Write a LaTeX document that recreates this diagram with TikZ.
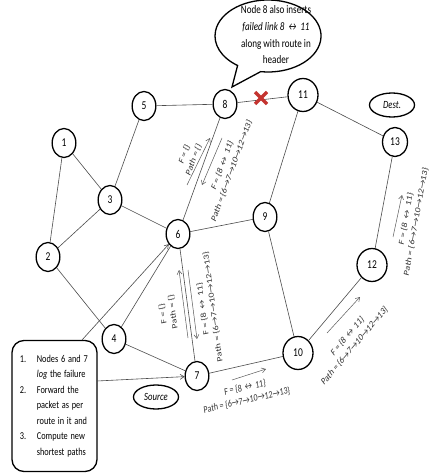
\documentclass[tikz,border=0pt]{standalone}
\usepackage{fontspec}
\setmainfont{Carlito}
\usetikzlibrary{arrows.meta,shapes.geometric,calc}
\definecolor{failred}{RGB}{196,52,48}
\begin{document}
\begin{tikzpicture}[x=1.26582pt,y=-1pt,xscale=0.79,
  every node/.append style={transform shape},
  nd/.style={ellipse,draw,line width=1.3pt,inner sep=0pt,minimum width=30pt,minimum height=29pt,font=\fontsize{12}{12}\selectfont},
  ndw/.style={nd,minimum width=38pt,minimum height=33pt},
  tag/.style={ellipse,draw,line width=1.3pt,inner sep=0pt,minimum width=57pt,minimum height=24pt,font=\fontsize{11}{11}\selectfont\itshape},
  ln/.style={draw=black!70,line width=0.6pt},
  la/.style={draw=black!65,line width=0.5pt,-{Straight Barb[length=4pt,width=5pt]}},
  lb/.style={inner sep=0pt,align=center,text=black!80,font=\fontsize{10}{13}\selectfont},
  xmark/.style={draw=failred,line width=3.5pt}
]
\useasboundingbox[fill=white] (0,0) rectangle (430,473);

% callout bubble
\coordinate (cc) at (268,36);
\coordinate (tip) at (232,87);
\draw[line width=1.3pt,fill=white] (cc) ++(262:67.1pt and 36pt)
  arc[start angle=262,end angle=595,x radius=67.1pt,y radius=36pt] -- (tip) -- cycle;
\node[align=center,inner sep=0pt,font=\fontsize{11.5}{16.7}\selectfont] (note) at (276,35)
  {Node 8 also inserts\\\textit{failed link 8 ↔ 11}\\along with route in\\header};

% network nodes
\node[nd] (n1) at (64,143) {1};
\node[nd] (n2) at (48,257) {2};
\node[nd] (n3) at (110,200) {3};
\node[nd] (n4) at (114,339) {4};
\node[nd] (n5) at (144,106) {5};
\node[nd] (n6) at (178,234) {6};
\node[nd] (n7) at (197,376) {7};
\node[nd] (n8) at (225,104) {8};
\node[nd] (n9) at (265,217) {9};
\node[ndw] (n10) at (298,353) {10};
\node[ndw] (n11) at (303,95) {11};
\node[ndw] (n12) at (372,265) {12};
\node[nd,minimum width=31.6pt] (n13) at (395,142) {13};

\node[tag] (dest) at (392,105) {Dest.};
\node[tag] (src) at (156,397) {Source};

% links
\foreach \a/\b in {n1/n2,n1/n3,n2/n3,n2/n4,n3/n5,n3/n6,n4/n6,n4/n7,n5/n8,
  n6/n8,n6/n9,n6/n7,n8/n11,n9/n11,n9/n10,n7/n10,n10/n12,n11/n13,n12/n13}
  \draw[ln] (\a) -- (\b);

% failed link marker
\coordinate (fail) at (261,98);
\draw[xmark] ($(fail)+(-6,-6)$) -- ($(fail)+(6,6)$);
\draw[xmark] ($(fail)+(-6,6)$) -- ($(fail)+(6,-6)$);

% procedure box
\node[draw,rounded corners=12pt,line width=1.3pt,minimum width=107.6pt,minimum height=131pt,
  text width=87.6pt,align=left,inner sep=0pt,font=\fontsize{10.5}{15.5}\selectfont] (box) at (54.5,406)
  {\makebox[21.5pt][l]{1.}Nodes 6 and 7\\
   \hspace*{21.5pt}\textit{log} the failure\\
   \makebox[21.5pt][l]{2.}Forward the\\
   \hspace*{21.5pt}packet as per\\
   \hspace*{21.5pt}route in it and\\
   \makebox[21.5pt][l]{3.}Compute new\\
   \hspace*{21.5pt}shortest paths};
\coordinate (bx6) at (82,340);
\coordinate (bx7) at (97,381);
\draw[la,draw=black!70,line width=0.6pt] (bx6) -- (n6);
\draw[la,draw=black!70,line width=0.6pt] (bx7) -- (n7);

% packet headers carried along the links
\coordinate (p1) at (187,185); \coordinate (p2) at (210,138);
\coordinate (p3) at (222,138); \coordinate (p4) at (202,185);
\coordinate (p5) at (188,338); \coordinate (p6) at (179,270);
\coordinate (p7) at (188,270); \coordinate (p8) at (197,339);
\coordinate (p9) at (232,380); \coordinate (p10) at (266,369);
\coordinate (p11) at (327,333); \coordinate (p12) at (360,297);
\coordinate (p13) at (393,237); \coordinate (p14) at (402,195);
\draw[la] (p1) -- (p2);
\draw[la] (p3) -- (p4);
\draw[la] (p5) -- (p6);
\draw[la] (p7) -- (p8);
\draw[la] (p9) -- (p10);
\draw[la] (p11) -- (p12);
\draw[la] (p13) -- (p14);

\node[lb,rotate=65.4] (h1) at (189,157) {F = \{\}\\Path = \{\}};
\node[lb,rotate=65.4] (h2) at (227,168) {F = \{8 ↔ 11\}\\Path = \{6→7→10→12→13\}};
\node[lb,rotate=99.6] (h3) at (168,313) {F = \{\}\\Path = \{\}};
\node[lb,rotate=99.6] (h4) at (208,308) {F = \{8 ↔ 11\}\\Path = \{6→7→10→12→13\}};
\node[lb,rotate=10.2] (h5) at (246,394) {F = \{8 ↔ 11\}\\Path = \{6→7→10→12→13\}};
\node[lb,rotate=43.2] (h6) at (351,341) {F = \{8 ↔ 11\}\\Path = \{6→7→10→12→13\}};
\node[lb,rotate=77.2] (h7) at (411,220) {F = \{8 ↔ 11\}\\Path = \{6→7→10→12→13\}};
\end{tikzpicture}
\end{document}
